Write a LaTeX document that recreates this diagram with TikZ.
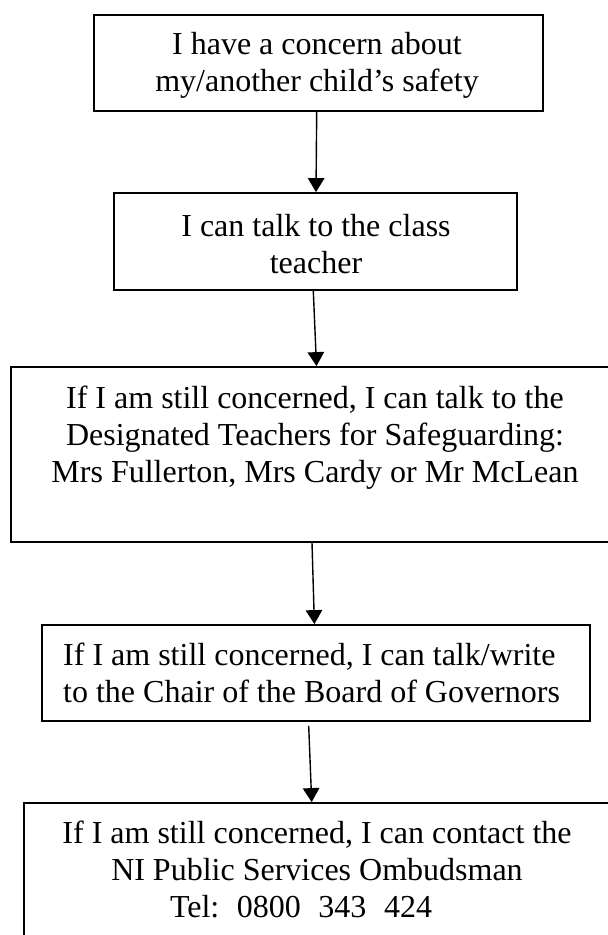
\documentclass[tikz,border=0pt]{standalone}
\usepackage{fontspec}
\setmainfont{Liberation Serif}
\usetikzlibrary{arrows.meta}
\begin{document}
\begin{tikzpicture}[x=1pt,y=-1pt,
  box/.style={draw, line width=1.8pt, inner sep=0pt},
  txt/.style={align=center, inner sep=0pt, anchor=north, font=\fontsize{32}{37.2}\selectfont\frenchspacing},
  arr/.style={line width=1.4pt, -{Triangle[width=16.5pt,length=14pt]}}]
\useasboundingbox (0,0) rectangle (608,935);
% boxes
\node[box, minimum width=449pt, minimum height=96pt] (b1) at (318.5,63) {};
\node[box, minimum width=403pt, minimum height=97pt] (b2) at (315.5,241.5) {};
\node[box, minimum width=609pt, minimum height=175pt] (b3) at (315.5,454.5) {};
\node[box, minimum width=548pt, minimum height=96pt] (b4) at (316,673) {};
\node[box, minimum width=588pt, minimum height=197pt] (b5) at (318,901.5) {};
% texts
\node[txt] (t1) at (317,28.3) {\strut I have a concern about\\\strut my/another child’s safety};
\node[txt] (t2) at (316,210.5) {\strut I can talk to the class\\\strut teacher};
\node[txt] (t3) at (315,382.3) {\strut If I am still concerned, I can talk to the\\\strut Designated Teachers for Safeguarding:\\\strut Mrs Fullerton, Mrs Cardy or Mr McLean};
\node[txt, align=left, anchor=north west] (t4) at (63,639) {\strut If I am still concerned, I can talk/write\\\strut to the Chair of the Board of Governors};
\node[txt] (t5) at (317,817.3) {\strut If I am still concerned, I can contact the\\\strut NI Public Services Ombudsman\\\strut\makebox[262pt][s]{Tel: 0800 343 424}\hspace*{32pt}};
% arrows
\draw[arr] ([xshift=-1.8pt]b1.south) -- ([xshift=0.5pt]b2.north);
\draw[arr] ([xshift=-2.2pt]b2.south) -- ([xshift=1pt]b3.north);
\draw[arr] ([xshift=-3.5pt]b3.south) -- ([xshift=-1.6pt]b4.north);
\draw[arr] ([xshift=-7.3pt,yshift=-4pt]b4.south) -- ([xshift=-6.3pt]b5.north);
\end{tikzpicture}
\end{document}
